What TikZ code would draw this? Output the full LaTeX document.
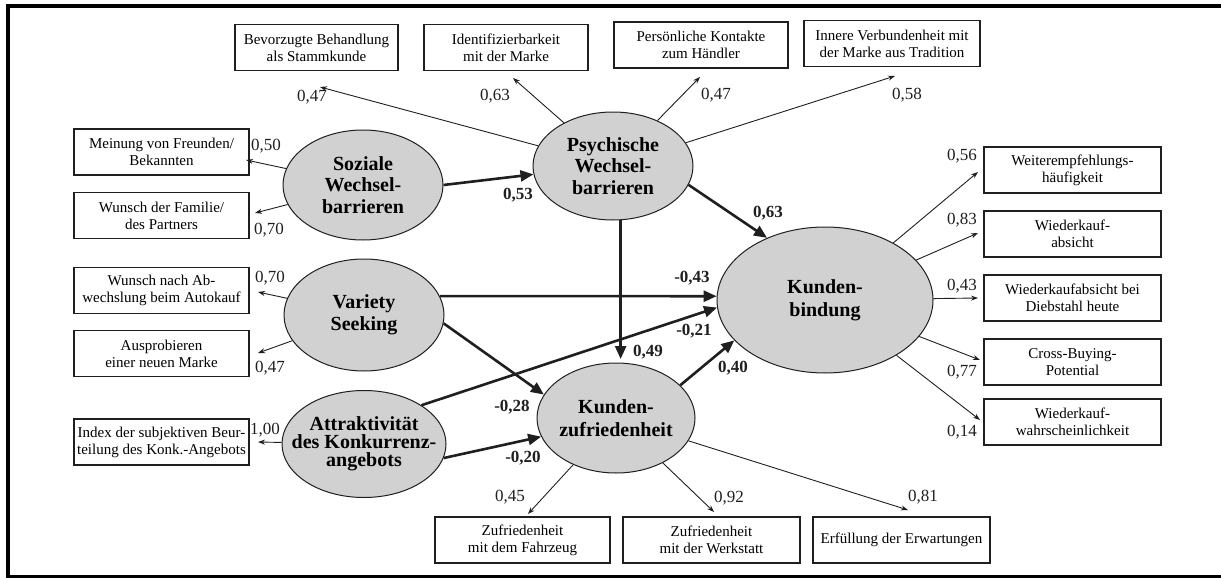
\documentclass[tikz,border=0pt]{standalone}
\usepackage{fontspec}
\setmainfont{Liberation Serif}
\usetikzlibrary{arrows.meta,shapes.geometric}
\definecolor{ellfill}{gray}{0.82}
\definecolor{ink}{gray}{0.12}
\tikzset{
  ind/.style={draw=ink, line width=1.1pt, fill=white, align=center,
    font=\fontsize{15}{17}\selectfont, inner sep=0pt, minimum height=46pt},
  lat/.style={ellipse, draw=ink, line width=1pt, fill=ellfill, align=center,
    font=\fontsize{20}{21.5}\selectfont\bfseries, inner xsep=-40pt, inner ysep=-20pt},
  load/.style={draw=ink, line width=0.9pt, -{Stealth[length=7pt,width=5pt]}},
  strong/.style={draw=ink, line width=2.6pt, -{Triangle[length=13pt,width=11pt]}},
  ldlab/.style={font=\fontsize{17}{17}\selectfont, inner sep=0pt, text=ink},
  pthlab/.style={font=\fontsize{17}{17}\selectfont\bfseries, inner sep=0pt, text=ink},
}
\begin{document}
\begin{tikzpicture}[x=1pt,y=-1pt]
\useasboundingbox (0,0) rectangle (1221,578);
% frame
\draw[line width=4pt] (1221,6) -- (8,6) -- (8,577);
\draw[line width=3pt] (6,576) -- (1221,576);

% latent variables
\node[lat, minimum width=160pt, minimum height=110pt] (E1) at (363,185) {Soziale\\Wechsel-\\barrieren};
\node[lat, minimum width=160pt, minimum height=108pt] (E2) at (613,166) {Psychische\\Wechsel-\\barrieren};
\node[lat, minimum width=160pt, minimum height=112pt] (E3) at (364,315) {Variety\\Seeking};
\node[lat, minimum width=164pt, minimum height=107pt, font=\fontsize{20}{18}\selectfont\bfseries] (E4) at (364,444) {Attraktivität\\des Konkurrenz-\\angebots};
\node[lat, minimum width=158pt, minimum height=110pt, font=\fontsize{20}{23}\selectfont\bfseries] (E5) at (616,418) {Kunden-\\zufriedenheit};
\node[lat, minimum width=216pt, minimum height=146pt, font=\fontsize{20}{23}\selectfont\bfseries] (E6) at (825,300) {Kunden-\\bindung};

% indicator boxes top
\node[ind, minimum width=163pt] (T1) at (316.5,47.5) {Bevorzugte Behandlung\\als Stammkunde};
\node[ind, minimum width=164pt] (T2) at (506,47.5) {Identifizierbarkeit\\mit der Marke};
\node[ind, minimum width=174pt] (T3) at (701,45) {Persönliche Kontakte\\zum Händler};
\node[ind, minimum width=176pt] (T4) at (892,43.5) {Innere Verbundenheit mit\\der Marke aus Tradition};
% left
\node[ind, minimum width=175pt] (L1) at (161.5,152) {Meinung von Freunden/\\Bekannten};
\node[ind, minimum width=175pt] (L2) at (161.5,215.5) {Wunsch der Familie/\\des Partners};
\node[ind, minimum width=175pt] (L3) at (161.5,290.5) {Wunsch nach Ab-\\wechslung beim Autokauf};
\node[ind, minimum width=175pt] (L4) at (161.5,353.5) {Ausprobieren\\einer neuen Marke};
\node[ind, minimum width=175pt] (L5) at (161.5,442) {Index der subjektiven Beur-\\teilung des Konk.-Angebots};
% right
\node[ind, minimum width=177pt] (R1) at (1072.5,170) {Weiterempfehlungs-\\häufigkeit};
\node[ind, minimum width=177pt] (R2) at (1072.5,234) {Wiederkauf-\\absicht};
\node[ind, minimum width=177pt] (R3) at (1072.5,298) {Wiederkaufabsicht bei\\Diebstahl heute};
\node[ind, minimum width=177pt] (R4) at (1072.5,362) {Cross-Buying-\\Potential};
\node[ind, minimum width=177pt] (R5) at (1072.5,422) {Wiederkauf-\\wahrscheinlichkeit};
% bottom
\node[ind, minimum width=175pt] (D1) at (522.5,540) {Zufriedenheit\\mit dem Fahrzeug};
\node[ind, minimum width=177pt] (D2) at (711.5,540) {Zufriedenheit\\mit der Werkstatt};
\node[ind, minimum width=177pt] (D3) at (901.5,540) {Erfüllung der Erwartungen};

% arrow tip coordinates for loadings
\coordinate (aT1) at (320,87);
\coordinate (aT2) at (513,78);
\coordinate (aT3) at (700,77);
\coordinate (aT4) at (895,76);
\coordinate (aL1) at (246,160);
\coordinate (aL2) at (255,213);
\coordinate (aL3) at (258,292);
\coordinate (aL4) at (258,353);
\coordinate (aL5) at (258,442);
\coordinate (aR1) at (978,172);
\coordinate (aR2) at (978,233);
\coordinate (aR3) at (978,298);
\coordinate (aR4) at (980,360);
\coordinate (aR5) at (980,420);
\coordinate (aD1) at (528,514);
\coordinate (aD2) at (714,512);
\coordinate (aD3) at (908,510);
\coordinate (v49) at (0,359);

% loadings
\draw[load] (E2) -- (aT1);
\draw[load] (E2) -- (aT2);
\draw[load] (E2) -- (aT3);
\draw[load] (E2) -- (aT4);
\draw[load] (E1) -- (aL1);
\draw[load] (E1) -- (aL2);
\draw[load] (E3) -- (aL3);
\draw[load] (E3) -- (aL4);
\draw[load] (E4) -- (aL5);
\draw[load] (E6) -- (aR1);
\draw[load] (E6) -- (aR2);
\draw[load] (E6) -- (aR3);
\draw[load] (E6) -- (aR4);
\draw[load] (E6) -- (aR5);
\draw[load] (E5) -- (aD1);
\draw[load] (E5) -- (aD2);
\draw[load] (E5) -- (aD3);

\node[ldlab] (n1) at (312,97) {0,47};
\node[ldlab] (n2) at (495,96) {0,63};
\node[ldlab] (n3) at (716,95) {0,47};
\node[ldlab] (n4) at (907,95) {0,58};
\node[ldlab] (n5) at (266,146) {0,50};
\node[ldlab] (n6) at (269,230) {0,70};
\node[ldlab] (n7) at (270,278) {0,70};
\node[ldlab] (n8) at (270,368) {0,47};
\node[ldlab] (n9) at (265,430) {1,00};
\node[ldlab] (n10) at (962,156) {0,56};
\node[ldlab] (n11) at (962,220) {0,83};
\node[ldlab] (n12) at (962,286) {0,43};
\node[ldlab] (n13) at (962,372) {0,77};
\node[ldlab] (n14) at (962,432) {0,14};
\node[ldlab] (n15) at (510,497) {0,45};
\node[ldlab] (n16) at (729,498) {0,92};
\node[ldlab] (n17) at (923,497) {0,81};

% structural paths
\draw[strong] (E1.east) -- (E2.186);
\draw[strong] (E2.-14) -- (E6.133);
\draw[strong] (E2.-82) -- (E2.-82 |- v49);
\draw[strong] (E3.14) -- (E6.178);
\draw[strong] (E4.34) -- (E6.184);
\draw[strong] (E3.-6) -- (E5.162);
\draw[strong] (E4.-10) -- (E5.194);
\draw[strong] (E5.27) -- (E6.204);

\node[pthlab] (p1) at (518,195) {0,53};
\node[pthlab] (p2) at (768,213) {0,63};
\node[pthlab] (p3) at (648,352) {0,49};
\node[pthlab] (p4) at (692,278) {-0,43};
\node[pthlab] (p5) at (694,331) {-0,21};
\node[pthlab] (p6) at (512,407) {-0,28};
\node[pthlab] (p7) at (523,458) {-0,20};
\node[pthlab] (p8) at (733,368) {0,40};
\end{tikzpicture}
\end{document}
